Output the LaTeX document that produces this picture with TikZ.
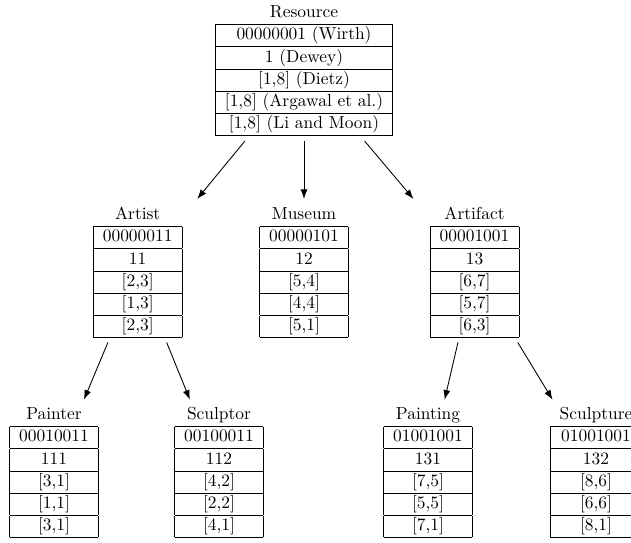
\documentclass[tikz,border=0pt]{standalone}
\usetikzlibrary{arrows.meta,calc}

% one class: a title line above a five-row labelling table
\newcommand{\classtable}[6]{%
  \begin{tabular}{|c|}
    \multicolumn{1}{c}{#1}\\ \hline
    {#2}\\ \hline
    {#3}\\ \hline
    {#4}\\ \hline
    {#5}\\ \hline
    {#6}\\ \hline
  \end{tabular}}

% subclass arrow, cut out of the line joining the two class centres
\newcommand{\sublink}[2]{%
  \draw[link] ($(#1)!0.356!(#2)$) -- ($(#1)!0.642!(#2)$);}

\tikzset{
  classbox/.style={inner sep=0pt, outer sep=0pt, anchor=south,
    font=\fontsize{10.95}{13.6}\selectfont},
  link/.style={-{Latex[length=6pt,width=4.4pt]}, line width=0.55pt},
}

\begin{document}
\begin{tikzpicture}[x=0.629pt, y=-0.629pt]
  \useasboundingbox (0,0) rectangle (631,542);
  \clip (0,0) rectangle (631,542);

  % root
  \node[classbox] (res) at (304,136)
    {\classtable{Resource}{00000001 (Wirth)}{1 (Dewey)}{[1,8] (Dietz)}{[1,8] (Argawal et al.)}{[1,8] (Li and Moon)}};

  % first level
  \node[classbox] (artist) at (137.7,338)
    {\classtable{Artist}{00000011}{11}{[2,3]}{[1,3]}{[2,3]}};
  \node[classbox] (museum) at (304,338)
    {\classtable{Museum}{00000101}{12}{[5,4]}{[4,4]}{[5,1]}};
  \node[classbox] (artifact) at (474.5,338)
    {\classtable{Artifact}{00001001}{13}{[6,7]}{[5,7]}{[6,3]}};

  % second level
  \node[classbox] (painter) at (54,538)
    {\classtable{Painter}{00010011}{111}{[3,1]}{[1,1]}{[3,1]}};
  \node[classbox] (sculptor) at (219,538)
    {\classtable{Sculptor}{00100011}{112}{[4,2]}{[2,2]}{[4,1]}};
  \node[classbox] (painting) at (428,538)
    {\classtable{Painting}{01001001}{131}{[7,5]}{[5,5]}{[7,1]}};
  \node[classbox] (sculpture) at (596,538)
    {\classtable{Sculpture}{01001001}{132}{[8,6]}{[6,6]}{[8,1]}};

  % subclass links
  \sublink{res}{artist}
  \sublink{res}{museum}
  \sublink{res}{artifact}
  \sublink{artist}{painter}
  \sublink{artist}{sculptor}
  \sublink{artifact}{painting}
  \sublink{artifact}{sculpture}
\end{tikzpicture}
\end{document}
